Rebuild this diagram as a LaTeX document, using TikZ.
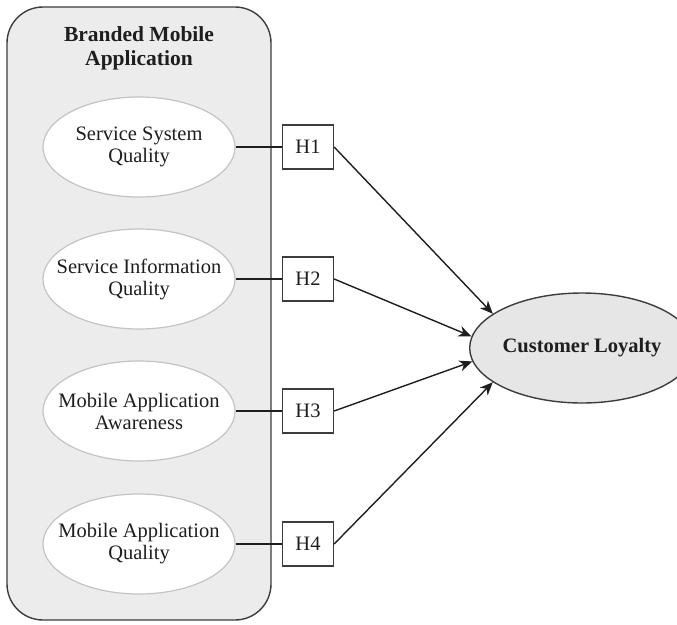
\documentclass[tikz,border=0pt]{standalone}
\usepackage{fontspec}
\setmainfont{Liberation Serif}
\usetikzlibrary{shapes.geometric,arrows.meta}
\definecolor{panelfill}{HTML}{ECECEC}
\definecolor{panelline}{HTML}{3C3C3C}
\definecolor{ellline}{HTML}{C4C4C4}
\definecolor{clfill}{HTML}{E6E6E6}
\definecolor{ink}{HTML}{1E1E1E}
\tikzset{
  panel/.style={draw=panelline, fill=panelfill, line width=1.4pt, rounded corners=36pt},
  construct/.style={ellipse, draw=ellline, fill=white, line width=1.2pt,
    minimum width=192pt, minimum height=100pt, inner sep=0pt,
    label={[align=center, font=\fontsize{20.5}{22}\selectfont, text=ink]center:#1}},
  hbox/.style={rectangle, draw=panelline, fill=white, line width=1.3pt,
    minimum width=51pt, minimum height=44pt, inner sep=0pt,
    font=\fontsize{20.5}{22}\selectfont, text=ink},
  outcome/.style={ellipse, draw=panelline, fill=clfill, line width=1.4pt,
    minimum width=191pt, minimum height=110pt, inner sep=0pt,
    font=\fontsize{20.5}{22}\selectfont\bfseries, text=ink},
  title/.style={align=center, font=\fontsize{21.5}{24}\selectfont\bfseries, text=ink},
  link/.style={draw=ink, line width=1.4pt},
  arrowlink/.style={draw=ink, line width=1.4pt, -{Stealth[length=13pt,width=11pt,inset=4pt]}}
}
\begin{document}
\begin{tikzpicture}[x=1pt,y=-1pt]
\useasboundingbox (0,0) rectangle (677,624);
\path[panel] (7,7) rectangle (271,620);
\node[title] (ttl) at (139,48) {Branded Mobile\\Application};
\node[construct={Service System\\Quality}] (e1) at (139,147) {};
\node[construct={Service Information\\Quality}] (e2) at (139,279) {};
\node[construct={Mobile Application\\Awareness}] (e3) at (139,411) {};
\node[construct={Mobile Application\\Quality}] (e4) at (139,544) {};
\node[hbox] (h1) at (308,147) {H1};
\node[hbox] (h2) at (308,279) {H2};
\node[hbox] (h3) at (308,411) {H3};
\node[hbox] (h4) at (308,544) {H4};
\node[outcome] (cl) at (582,348) {Customer Loyalty};
\foreach \i in {1,2,3,4}{\draw[link] (e\i.east) -- (h\i.west);}
\draw[arrowlink] (h1.east) -- (cl.159);
\draw[arrowlink] (h2.east) -- (cl.174);
\draw[arrowlink] (h3.east) -- (cl.187);
\draw[arrowlink] (h4.east) -- (cl.201);
\end{tikzpicture}
\end{document}
